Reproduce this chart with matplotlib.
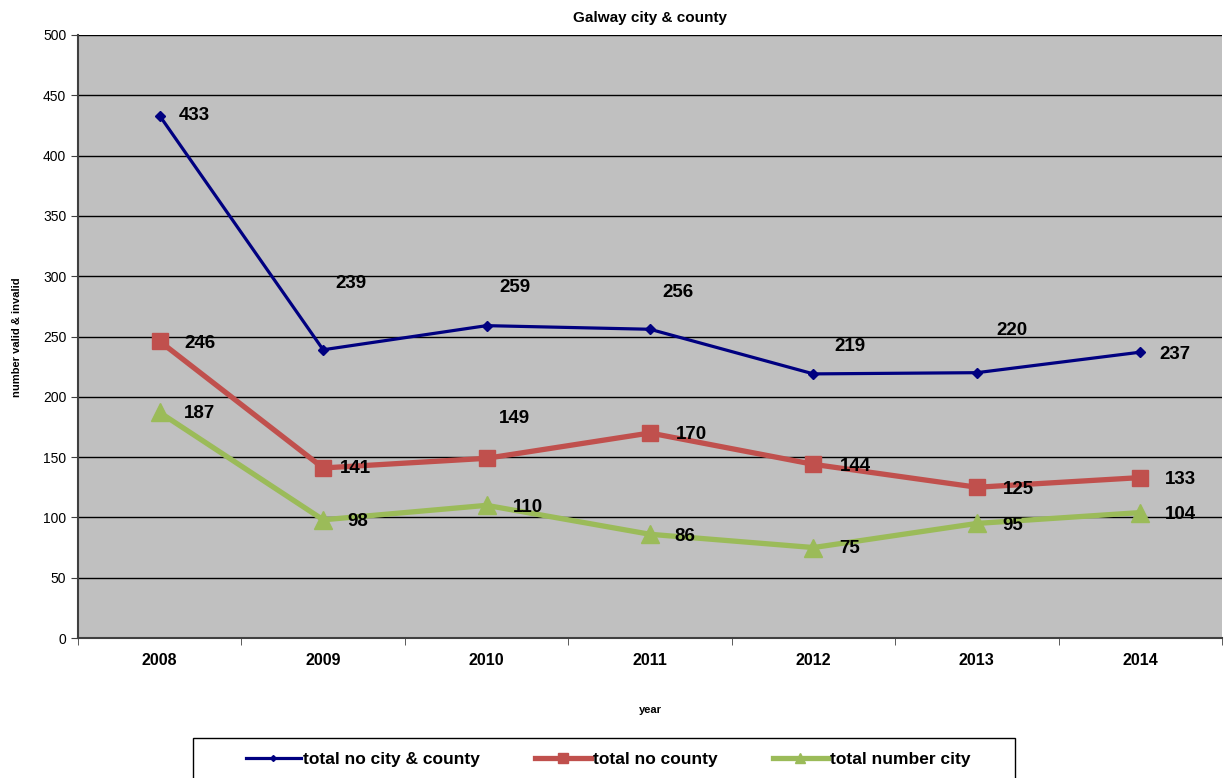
import matplotlib
matplotlib.use("Agg")
from matplotlib import pyplot as plt
from matplotlib.patches import Rectangle

plt.rcParams['font.family'] = ['Liberation Sans', 'DejaVu Sans']

# data
years = ["2008", "2009", "2010", "2011", "2012", "2013", "2014"]
city_county = [433, 239, 259, 256, 219, 220, 237]
county = [246, 141, 149, 170, 144, 125, 133]
city = [187, 98, 110, 86, 75, 95, 104]

# label offsets (pixels) relative to each point, as in the original
off_cc = [(35, 0), (28, 66), (28, 38), (28, 37), (37, 27), (35, 42), (35, -2)]
off_co = [(40, -2), (32, -1), (28, 40), (41, -2), (42, -2), (42, -2), (40, -2)]
off_ci = [(40, -1), (35, -2), (41, -2), (35, -2), (36, -1), (36, -2), (40, -2)]

fig = plt.figure(figsize=(12.29, 7.78), dpi=100)
ax = fig.add_axes([78 / 1229, 1 - 638 / 778, 1144 / 1229, 603 / 778])
ax.set_facecolor("#C0C0C0")

x = list(range(len(years)))
ax.plot(x, city_county, color="#000080", lw=2.3, marker="D", ms=5,
        label="total no city & county", zorder=4)
ax.plot(x, county, color="#C0504D", lw=3.8, marker="s", ms=12,
        label="total no county", zorder=3)
ax.plot(x, city, color="#9BBB59", lw=3.8, marker="^", ms=13,
        label="total number city", zorder=3)

for vals, offs in [(city_county, off_cc), (county, off_co), (city, off_ci)]:
    for i, v in enumerate(vals):
        ax.annotate(str(v), (i, v), xytext=offs[i], textcoords="offset pixels",
                    ha="center", va="center", fontsize=13.5, fontweight="bold",
                    zorder=5)

ax.set_xlim(-0.5, len(years) - 0.5)
ax.set_ylim(0, 500)
ax.set_yticks(range(0, 501, 50))
ax.tick_params(axis="y", labelsize=10, length=5, color="#404040")
ax.set_xticks(x)
ax.set_xticklabels(years, fontsize=11.5, fontweight="bold")
ax.tick_params(axis="x", length=0, pad=11)
ax.set_xticks([i - 0.5 for i in range(len(years) + 1)], minor=True)
ax.tick_params(axis="x", which="minor", length=5, color="#404040")
ax.grid(axis="y", color="black", lw=1)
ax.set_axisbelow(True)
for s in ["top", "right"]:
    ax.spines[s].set_visible(False)
for s in ["left", "bottom"]:
    ax.spines[s].set_color("#404040")
    ax.spines[s].set_linewidth(1.5)

fig.text(0.5 * (78 + 1222) / 1229, 1 - 18 / 778, "Galway city & county",
         ha="center", va="center", fontsize=11, fontweight="bold")
fig.text(17 / 1229, 1 - 337 / 778, "number valid & invalid", rotation=90,
         ha="center", va="center", fontsize=8, fontweight="bold")
fig.text(0.5 * (78 + 1222) / 1229, 1 - 710 / 778, "year",
         ha="center", va="center", fontsize=8, fontweight="bold")

# legend box, running off the bottom edge as in the original
fig.patches.append(Rectangle((193 / 1229, -0.05), 822 / 1229, 0.05 + 40 / 778,
                             transform=fig.transFigure, fill=False,
                             edgecolor="black", lw=1))
fig.legend(loc="center", ncol=3, bbox_to_anchor=(608 / 1229, 1 - 759 / 778),
           prop={"weight": "bold", "size": 12.5}, frameon=False,
           handlelength=3.2, columnspacing=3.2, handletextpad=0.1,
           borderpad=0, markerscale=0.6)

fig.savefig("out.png", dpi=100)
